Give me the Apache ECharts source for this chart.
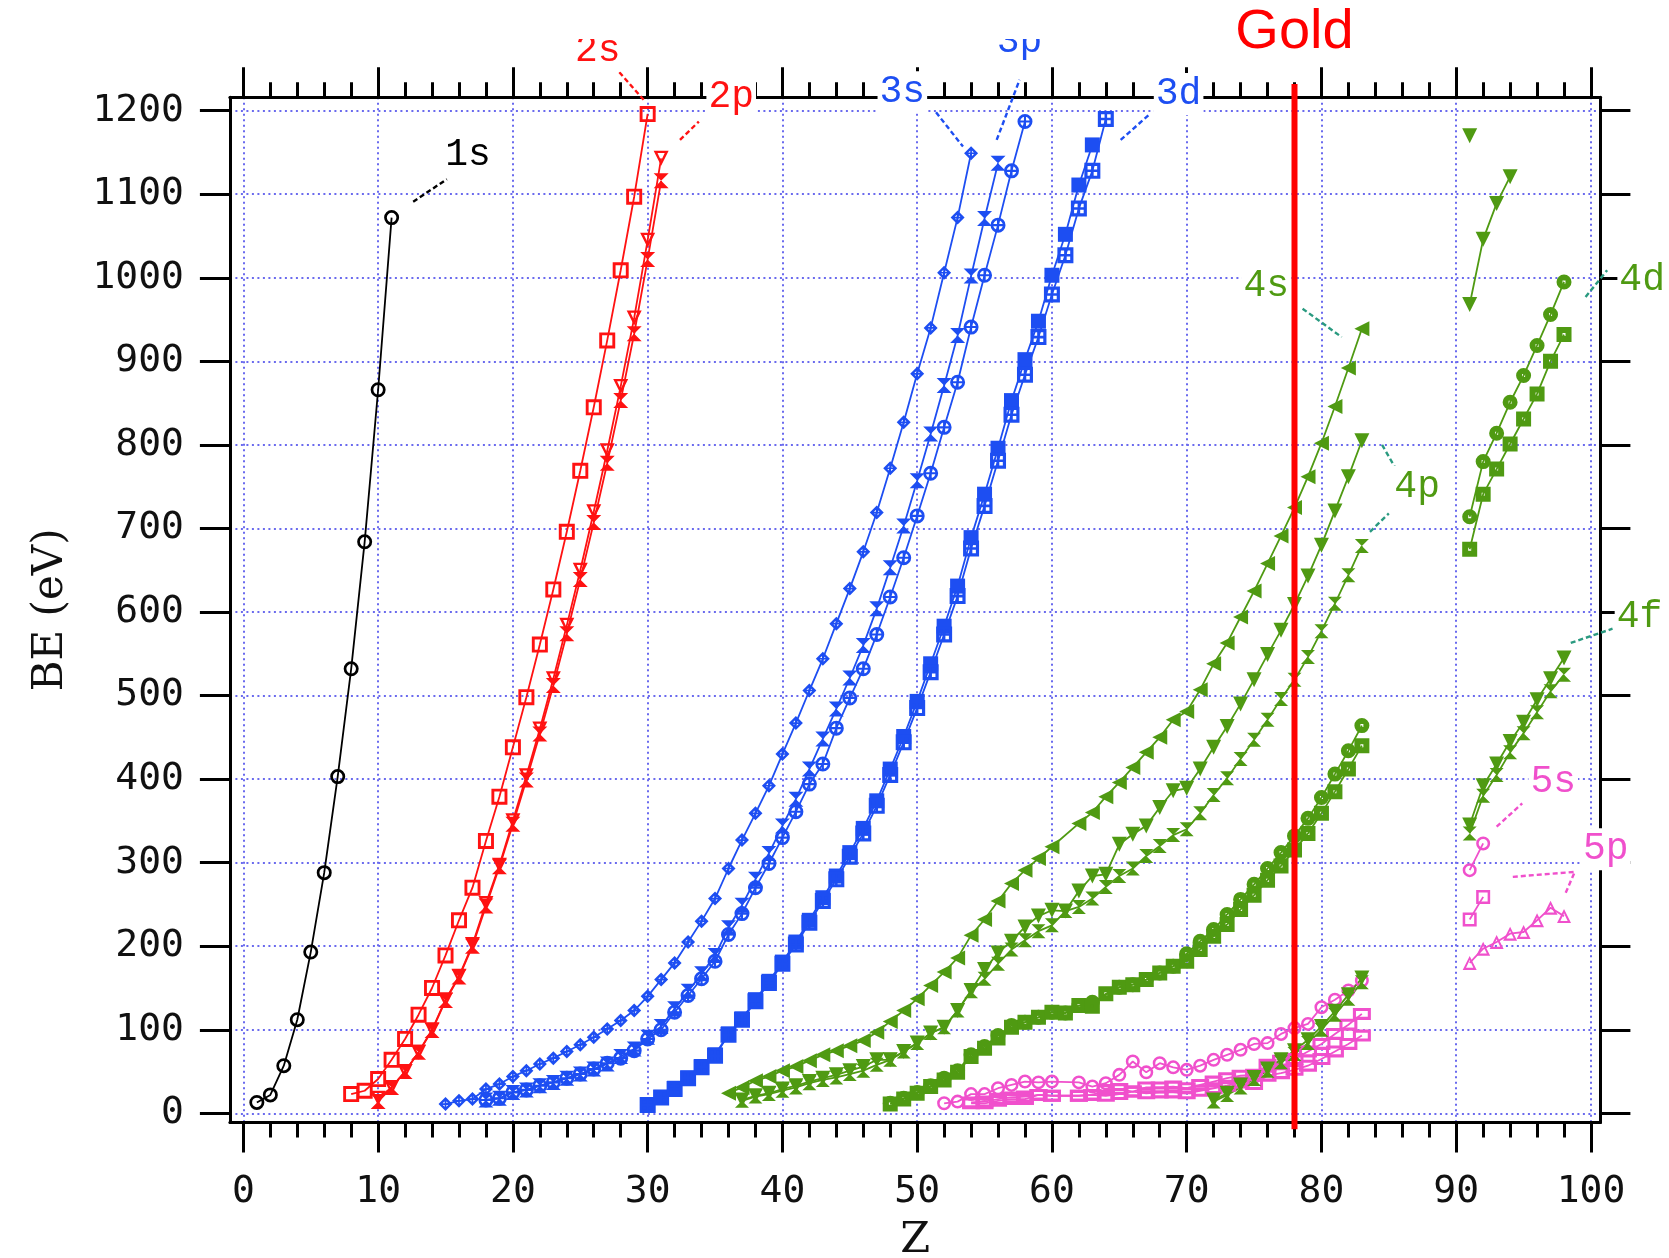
<!DOCTYPE html>
<html>
<head>
<meta charset="utf-8">
<script src="https://cdn.jsdelivr.net/npm/echarts@6/dist/echarts.min.js"></script>
<style>
  html, body { margin: 0; padding: 0; background: #ffffff; }
  #chart { width: 1669px; height: 1258px; }
</style>
</head>
<body>
<div id="chart"></div>
<script>
// Electron binding energies (eV) of atomic subshells versus atomic number Z.
// Each run lists consecutive Z starting at the given first Z; null = no value.

const z1s = 1;   const be1s   = [13, 22, 57, 112, 193, 288, 403, 532, 684, 866, 1072];
const z2s = 8;   const be2s   = [23, 27, 41, 64, 89, 118, 150, 189, 231, 270, 326, 379, 438, 498, 561, 627, 696, 769, 845, 925, 1009, 1097, 1196];
const z2p = 10;  const be2p12 = [18, 31, 50, 73, 100, 136, 164, 202, 251, 297, 350, 404, 460, 520, 584, 650, 720, 793, 870, 952, 1045, 1143];
                 const be2p32 = [14, 31, 50, 73, 99, 135, 163, 200, 248, 295, 346, 399, 454, 512, 574, 639, 707, 778, 853, 933, 1022, 1116];
const z3s = 15;  const be3s   = [11, 15, 17, 29, 35, 44, 51, 59, 66, 74, 82, 91, 101, 111, 123, 140, 160, 180, 205, 230, 257, 293, 327, 359, 392, 430, 467, 506, 544, 586, 628, 672, 719, 772, 827, 885, 940, 1006, 1072, 1149];
const z3p = 18;  const be3p12 = [16, 18, 25, 28, 33, 37, 42, 47, 53, 59, 68, 77, 91, 104, 125, 146, 167, 189, 222, 249, 280, 311, 344, 376, 412, 448, 484, 521, 560, 604, 653, 703, 757, 813, 871, 931, 1002, 1071, 1137];
                 const be3p32 = [16, 18, 25, 28, 33, 37, 42, 47, 53, 60, 66, 75, 89, 100, 121, 141, 161, 182, 214, 239, 270, 299, 330, 361, 394, 418, 461, 497, 532, 573, 618, 665, 715, 766, 821, 875, 941, 1003, 1063, 1128, 1187];
const z3d = 30;  const be3d32 = [10, 19, 30, 42, 56, 70, 95, 113, 136, 158, 181, 205, 231, 258, 284, 312, 341, 374, 412, 451, 493, 538, 583, 631, 689, 741, 796, 853, 902, 948, 1003, 1052, 1111, 1159];
                 const be3d52 = [10, 19, 29, 42, 55, 69, 94, 112, 134, 156, 179, 202, 228, 254, 280, 307, 335, 368, 405, 444, 485, 528, 573, 619, 676, 727, 781, 836, 884, 929, 980, 1027, 1083, 1128, 1190];
const z4s = 36;  const be4s   = [24, 31, 39, 44, 51, 56, 63, 70, 75, 81, 87, 97, 110, 123, 137, 153, 169, 186, 213, 232, 254, 275, 291, 305, 319, null, 347, 360, 379, 396, 414, 432, 450, 471, 481, 507, 538, 563, 594, 625, 658, 691, 725, 762, 802, 846, 892, 939];
const z4p = 37;  const be4p12 = [16, 21, 24, 29, 33, 38, 42, 46, 51, 56, 64, 64, 74, 84, 96, 103, 123, 147, 172, 192, 206, 223, 236, 243, 242, 266, 284, 286, 322, 334, 344, 366, 386, 389, 412, 438, 463, 490, 519, 549, 578, 609, 643, 680, 721, 762, 805];
                 const be4p32 = [15, 20, 23, 27, 31, 36, 40, 43, 47, 51, 58, 64, 74, 84, 96, 103, 123, 146, 161, 179, 196, 207, 218, 225, 242, 247, 257, 271, 284, 293, 308, 320, 333, 340, 359, 381, 401, 424, 447, 471, 496, 519, 546, 577, 610, 644, 679];
const z4d = 48;  const be4d32 = [12, 18, 25, 33, 42, 51, 70, 80, 93, 105, 109, 115, 121, 120, 129, 133, null, 151, 154, 160, 168, 176, 191, 206, 220, 238, 256, 274, 293, 312, 332, 353, 378, 406, 434, 464];
                 const be4d52 = [11, 17, 24, 32, 40, 49, 68, 78, 90, 103, 109, 115, 121, 120, 129, 128, 143, 151, 154, 160, 168, 176, 182, 196, 212, 226, 244, 261, 279, 296, 315, 335, 359, 385, 412, 440];
const z4f = 72;  const be4f52 = [16, 24, 34, 43, 53, 64, 75, 88, 104, 122, 142, 162];
                 const be4f72 = [14, 22, 31, 41, 51, 61, 71, 84, 100, 118, 137, 157];
const z5s = 52;  const be5s   = [12, 14, 23, 23, 30, 34, 38, 37, 38, null, 37, 32, 36, 46, 62, 49, 60, 55, 52, 57, 64, 70, 76, 83, 84, 95, 102, 107, 127, 136, 147, 159];
const z5p = 54;  const be5p12 = [13, 14, 17, 19, 20, 22, 21, null, 21, 22, 28, 29, 26, 31, 31, 32, 30, 34, 38, 42, 45, 46, 58, 63, 65, 74, 83, 95, 106, 119];
                 const be5p32 = [12, 12, 15, 17, 17, 22, 21, null, 21, 22, 21, 23, 26, 24, 25, 25, 24, 27, 30, 33, 37, 35, 45, 48, 52, 57, 65, 74, 83, 93];

// Actinide block
const zAct = 91;
const be4p12Act = [1170];
const be4p32Act = [968, 1046, 1089, 1121];
const be4d32Act = [714, 780, 814, 851, 883, 919, 956, 995];
const be4d52Act = [675, 741, 771, 801, 831, 861, 900, 932];
const be4f52Act = [345, 392, 418, 445, 468, 495, 520, 545];
const be4f72Act = [335, 380, 405, 432, 455, 480, 505, 525];
const be5sAct   = [291, 323];
const be5p12Act = [232, 259];
const be5p32Act = [180, 197, 205, 215, 217, 231, 246, 236];

// Axis ticks
const majorX = [0, 10, 20, 30, 40, 50, 60, 70, 80, 90, 100];
const minorX = [2, 4, 6, 8, 12, 14, 16, 18, 22, 24, 26, 28, 32, 34, 36, 38, 42, 44, 46, 48, 52, 54, 56, 58, 62, 64, 66, 68, 72, 74, 76, 78, 82, 84, 86, 88, 92, 94, 96, 98];
const majorY = [0, 100, 200, 300, 400, 500, 600, 700, 800, 900, 1000, 1100, 1200];

const goldZ = 78;

// ---- styling ----
const BLACK = '#000000', RED = '#ff1212', BLUE = '#1d4ef2', GREEN = '#4f9a12',
      PINK = '#f050cc', TEAL = '#2a9a80', GRIDC = '#6a6aee';

// Marker glyphs (outer contour clockwise, holes counter-clockwise)
const SYM = {
  ring:     'path://M5,0A5,5 0 1 1 5,10A5,5 0 1 1 5,0Z M5,1.8A3.2,3.2 0 1 0 5,8.2A3.2,3.2 0 1 0 5,1.8Z',
  ringX:    'path://M5,0A5,5 0 1 1 5,10A5,5 0 1 1 5,0Z M5,1.8A3.2,3.2 0 1 0 5,8.2A3.2,3.2 0 1 0 5,1.8Z M4.3,0.5L5.7,0.5L5.7,9.5L4.3,9.5Z M0.5,4.3L9.5,4.3L9.5,5.7L0.5,5.7Z',
  ringDot:  'path://M5,0A5,5 0 1 1 5,10A5,5 0 1 1 5,0Z M4,4L4,6L6,6L6,4Z',
  box:      'path://M0,0L10,0L10,10L0,10Z M1.8,1.8L1.8,8.2L8.2,8.2L8.2,1.8Z',
  boxDot:   'path://M0,0L10,0L10,10L0,10Z M4,4L4,6L6,6L6,4Z',
  boxGrid:  'path://M0,0L10,0L10,10L0,10Z M2,2L2,4.2L4.2,4.2L4.2,2Z M5.8,2L5.8,4.2L8,4.2L8,2Z M2,5.8L2,8L4.2,8L4.2,5.8Z M5.8,5.8L5.8,8L8,8L8,5.8Z',
  wideBox:  'path://M0,0L14,0L14,10L0,10Z M2.4,2.6L2.4,7.4L11.6,7.4L11.6,2.6Z',
  diamondX: 'path://M5,0L10,5L5,10L0,5Z M5,2.4L2.4,5L5,7.6L7.6,5Z M4.4,1L5.6,1L5.6,9L4.4,9Z M1,4.4L9,4.4L9,5.6L1,5.6Z',
  triDownO: 'path://M0,0L10,0L5,10Z M2.6,1.5L5,6.6L7.4,1.5Z',
  triUpO:   'path://M5,0L10,10L0,10Z M5,3L2.4,8.4L7.6,8.4Z',
  hourglass:'path://M0,0L10,0L0,10L10,10Z'
};

function run(z0, vals) {
  const out = [];
  vals.forEach((v, i) => { if (v !== null) out.push([z0 + i, v]); });
  return out;
}

function line(name, z0, vals, color, symbol, size, extra) {
  return Object.assign({
    type: 'line', name, data: run(z0, vals),
    xAxisIndex: 0, yAxisIndex: 0,
    symbol, symbolSize: size, showSymbol: true,
    lineStyle: { color, width: 1.8 },
    itemStyle: { color, borderWidth: 0 },
    emphasis: { disabled: true },
    animation: false, clip: false
  }, extra || {});
}

const series = [
  line('1s', z1s, be1s, BLACK, SYM.ring, 15),
  line('2s', z2s, be2s, RED, SYM.box, 16),
  line('2p1/2', z2p, be2p12, RED, SYM.triDownO, 15),
  line('2p3/2', z2p, be2p32, RED, SYM.hourglass, 15),
  line('3s', z3s, be3s, BLUE, SYM.diamondX, 14),
  line('3p1/2', z3p, be3p12, BLUE, SYM.hourglass, 15),
  line('3p3/2', z3p, be3p32, BLUE, SYM.ringX, 15),
  line('3d3/2', z3d, be3d32, BLUE, 'rect', 15),
  line('3d5/2', z3d, be3d52, BLUE, SYM.boxGrid, 16),
  line('5s', z5s, be5s, PINK, SYM.ring, 14),
  line('5p1/2', z5p, be5p12, PINK, SYM.wideBox, [18, 12]),
  line('5p3/2', z5p, be5p32, PINK, SYM.wideBox, [18, 12]),
  line('5s', zAct, be5sAct, PINK, SYM.ring, 14),
  line('5p1/2', zAct, be5p12Act, PINK, SYM.box, 14),
  line('5p3/2', zAct, be5p32Act, PINK, SYM.triUpO, 14),
  line('4s', z4s, be4s, GREEN, 'triangle', 15, { symbolRotate: 90 }),
  line('4p1/2', z4p, be4p12, GREEN, 'triangle', 15, { symbolRotate: 180 }),
  line('4p3/2', z4p, be4p32, GREEN, SYM.hourglass, 14),
  line('4p1/2', zAct, be4p12Act, GREEN, 'triangle', 15, { symbolRotate: 180 }),
  line('4p3/2', zAct, be4p32Act, GREEN, 'triangle', 15, { symbolRotate: 180 }),
  line('4d3/2', z4d, be4d32, GREEN, SYM.ringDot, 15),
  line('4d5/2', z4d, be4d52, GREEN, SYM.boxDot, 15),
  line('4d3/2', zAct, be4d32Act, GREEN, SYM.ringDot, 15),
  line('4d5/2', zAct, be4d52Act, GREEN, SYM.boxDot, 15),
  line('4f5/2', z4f, be4f52, GREEN, 'triangle', 15, { symbolRotate: 180 }),
  line('4f7/2', z4f, be4f72, GREEN, SYM.hourglass, 14),
  line('4f5/2', zAct, be4f52Act, GREEN, 'triangle', 15, { symbolRotate: 180 }),
  line('4f7/2', zAct, be4f72Act, GREEN, SYM.hourglass, 14)
];

// ---- axes ----
const tickFont = { fontFamily: 'DejaVu Sans Mono', fontSize: 38, color: '#111111', formatter: v => String(v) };
const axisLine = { onZero: false, lineStyle: { color: '#000', width: 3 } };
const tickStyle = { color: '#000', width: 3 };
const gridStyle = { color: GRIDC, width: 2, type: [2, 3.5] };
const X_MIN = -1, X_MAX = 100.7, Y_MIN = -11, Y_MAX = 1216;

function xAx(position, values, len, withLine) {
  return {
    type: 'value', position, min: X_MIN, max: X_MAX,
    axisLine: withLine ? axisLine : { show: false, onZero: false },
    axisTick: { show: true, inside: false, customValues: values, length: len, lineStyle: tickStyle },
    axisLabel: { show: false },
    splitLine: { show: false }
  };
}

const xAxis = [
  Object.assign(xAx('bottom', majorX, 30, true), {
    name: 'Z', nameLocation: 'middle', nameGap: 97, nameMoveOverlap: false,
    nameTextStyle: { fontFamily: 'DejaVu Serif', fontSize: 43, color: '#111' },
    axisLabel: Object.assign({ show: true, customValues: majorX, margin: 51 }, tickFont),
    splitLine: { show: true, lineStyle: gridStyle }
  }),
  xAx('bottom', minorX, 15, false),
  xAx('top', majorX, 30, true),
  xAx('top', minorX, 15, false)
];

const yAxis = [
  {
    type: 'value', position: 'left', min: Y_MIN, max: Y_MAX,
    name: 'BE (eV)', nameLocation: 'middle', nameGap: 158, nameRotate: 90, nameMoveOverlap: false,
    nameTextStyle: { fontFamily: 'DejaVu Serif', fontSize: 42, color: '#111' },
    axisLine,
    axisTick: { show: true, customValues: majorY, length: 30, lineStyle: tickStyle },
    axisLabel: Object.assign({ show: true, customValues: majorY, margin: 46 }, tickFont),
    splitLine: { show: true, lineStyle: gridStyle }
  },
  {
    type: 'value', position: 'right', min: Y_MIN, max: Y_MAX,
    axisLine,
    axisTick: { show: true, customValues: majorY, length: 30, lineStyle: tickStyle },
    axisLabel: { show: false },
    splitLine: { show: false }
  }
];

// ---- subshell labels with leader lines (data coordinates) ----
const shellLabels = [
  { text: '1s', at: [16.67, 1147], color: BLACK, lead: BLACK, leaders: [[[12.6, 1091], [15.1, 1118]]] },
  { text: '2s', at: [26.3, 1272], color: RED, lead: RED, leaders: [[[27.9, 1246], [29.7, 1213]]] },
  { text: '2p', at: [36.2, 1216], color: RED, lead: RED, leaders: [[[32.4, 1165], [33.8, 1187]]] },
  { text: '3s', at: [48.9, 1222], color: BLUE, lead: BLUE, leaders: [[[51.4, 1198], [53.4, 1157]]] },
  { text: '3p', at: [57.6, 1282], color: BLUE, lead: BLUE, leaders: [[[55.9, 1165], [57.6, 1237]]] },
  { text: '3d', at: [69.4, 1220], color: BLUE, lead: BLUE, leaders: [[[65.1, 1165], [67.2, 1195]]] },
  { text: '4s', at: [75.9, 990], color: GREEN, lead: TEAL, leaders: [[[78.6, 963], [81.5, 929]]] },
  { text: '4p', at: [87.1, 750], color: GREEN, lead: TEAL, leaders: [[[84.5, 800], [85.5, 772]], [[83.6, 696], [85.0, 718]]] },
  { text: '4d', at: [103.8, 998], color: GREEN, lead: TEAL, leaders: [[[99.6, 977], [101.2, 1009]]] },
  { text: '4f', at: [103.6, 594], color: GREEN, lead: TEAL, leaders: [[[98.5, 563], [101.6, 580]]] },
  { text: '5s', at: [97.2, 397], color: PINK, lead: PINK, leaders: [[[93.0, 343], [94.9, 371]]] },
  { text: '5p', at: [101.1, 316], color: PINK, lead: PINK, leaders: [[[94.2, 283], [98.8, 289], [98.1, 263]]] }
];

const chart = echarts.init(document.getElementById('chart'), null, { renderer: 'canvas', width: 1669, height: 1258 });

chart.setOption({
  backgroundColor: '#ffffff',
  animation: false,
  grid: { left: 229.9, right: 68.6, top: 97.3, bottom: 135.5, containLabel: false, outerBoundsMode: 'none' },
  xAxis, yAxis, series
});

function px(p) { return chart.convertToPixel({ xAxisIndex: 0, yAxisIndex: 0 }, p); }

const graphic = [];
shellLabels.forEach(l => {
  l.leaders.forEach(seg => {
    graphic.push({
      type: 'polyline', z: 30,
      shape: { points: seg.map(px) },
      style: { stroke: l.lead, lineWidth: 2.4, lineDash: [5, 3], fill: null }
    });
  });
  const p = px(l.at);
  graphic.push({
    type: 'text', x: p[0], y: p[1], z: 40,
    style: {
      text: l.text, fill: l.color, font: '38px "Liberation Mono"',
      align: 'center', verticalAlign: 'middle',
      backgroundColor: '#ffffff', padding: [2, 2]
    }
  });
});

// Gold (Z = 78 marker line)
const gTop = px([goldZ, 1232]), gBot = px([goldZ, -19]);
graphic.push({
  type: 'rect', z: 50, shape: { x: 0, y: 0, width: 1669, height: 39 },
  style: { fill: '#ffffff' }
});
graphic.push({
  type: 'line', z: 55,
  shape: { x1: gTop[0], y1: gTop[1], x2: gBot[0], y2: gBot[1] },
  style: { stroke: '#ff0000', lineWidth: 6 }
});
const gLab = px([goldZ, 1293]);
graphic.push({
  type: 'text', x: gLab[0], y: gLab[1], z: 60,
  style: { text: 'Gold', fill: '#ff0000', font: '56px "Liberation Sans"', align: 'center', verticalAlign: 'middle' }
});

chart.setOption({ graphic });
</script>
</body>
</html>
